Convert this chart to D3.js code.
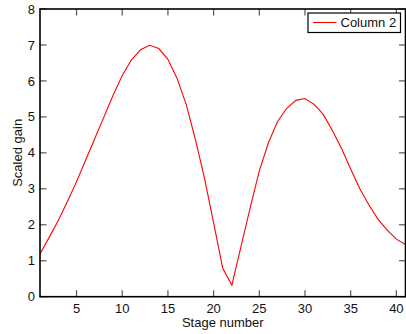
<!DOCTYPE html>
<html><head><meta charset="utf-8">
<script src="https://cdn.jsdelivr.net/npm/d3@7"></script>
<style>body{margin:0;background:#fff;}svg{display:block;}</style>
</head><body>
<script>
const stages = d3.range(1, 42);
const gain = [1.19,1.65,2.12,2.65,3.2,3.8,4.4,5.0,5.6,6.15,6.58,6.87,6.99,6.9,6.6,6.07,5.35,4.38,3.3,2.05,0.79,0.32,1.4,2.47,3.5,4.28,4.87,5.24,5.46,5.51,5.35,5.07,4.62,4.12,3.55,3.0,2.55,2.15,1.85,1.6,1.45];
const xTicks = [5,10,15,20,25,30,35,40];
const yTicks = [0,1,2,3,4,5,6,7,8];
const seriesName = "Column 2";

const W = 406, H = 334;
const L = 40, R = 405.5, T = 9, B = 296.7;
const font = "'Liberation Sans', Arial, Helvetica, sans-serif";

const svg = d3.select("body").append("svg").attr("width", W).attr("height", H);
const x = d3.scaleLinear().domain([1, 41]).range([L, R]);
const y = d3.scaleLinear().domain([0, 8]).range([B, T]);
const tl = 6.5;

// ticks
const tickCol = "#555";
const g = svg.append("g");
xTicks.forEach(v => {
  g.append("line").attr("x1", x(v)).attr("x2", x(v)).attr("y1", B).attr("y2", B - tl).attr("stroke", tickCol).attr("stroke-width", 1.2);
  g.append("line").attr("x1", x(v)).attr("x2", x(v)).attr("y1", T).attr("y2", T + tl).attr("stroke", tickCol).attr("stroke-width", 1.2);
  g.append("text").attr("x", x(v)).attr("y", 313).attr("text-anchor", "middle")
    .attr("font-family", font).attr("font-size", 13).attr("fill", "#111").text(v);
});
yTicks.forEach(v => {
  g.append("line").attr("x1", L).attr("x2", L + tl).attr("y1", y(v)).attr("y2", y(v)).attr("stroke", tickCol).attr("stroke-width", 1.2);
  g.append("line").attr("x1", R).attr("x2", R - tl).attr("y1", y(v)).attr("y2", y(v)).attr("stroke", tickCol).attr("stroke-width", 1.2);
  g.append("text").attr("x", 35).attr("y", y(v) + 4.6).attr("text-anchor", "end")
    .attr("font-family", font).attr("font-size", 13).attr("fill", "#111").text(v);
});

// line
svg.append("path")
  .datum(stages.map((s, i) => [s, gain[i]]))
  .attr("fill", "none").attr("stroke", "#ff0000").attr("stroke-width", 1.1)
  .attr("d", d3.line().x(d => x(d[0])).y(d => y(d[1])));

// box
svg.append("rect").attr("x", L).attr("y", T).attr("width", R - L).attr("height", B - T)
  .attr("fill", "none").attr("stroke", "#000").attr("stroke-width", 1.6);

// axis labels
svg.append("text").attr("x", (L + R) / 2).attr("y", 327).attr("text-anchor", "middle")
  .attr("font-family", font).attr("font-size", 13).attr("fill", "#111").text("Stage number");
svg.append("text").attr("transform", `translate(22,${(T + B) / 2}) rotate(-90)`).attr("text-anchor", "middle")
  .attr("font-family", font).attr("font-size", 13).attr("fill", "#111").text("Scaled gain");

// legend
const lg = svg.append("g");
lg.append("rect").attr("x", 308).attr("y", 13).attr("width", 92.5).attr("height", 19.5)
  .attr("fill", "#fff").attr("stroke", "#000").attr("stroke-width", 1.2);
lg.append("line").attr("x1", 313).attr("x2", 336.5).attr("y1", 22.5).attr("y2", 22.5)
  .attr("stroke", "#ff0000").attr("stroke-width", 1.1);
lg.append("text").attr("x", 340.5).attr("y", 27.3).attr("font-family", font).attr("font-size", 13)
  .attr("fill", "#111").text(seriesName);
</script>
</body></html>
